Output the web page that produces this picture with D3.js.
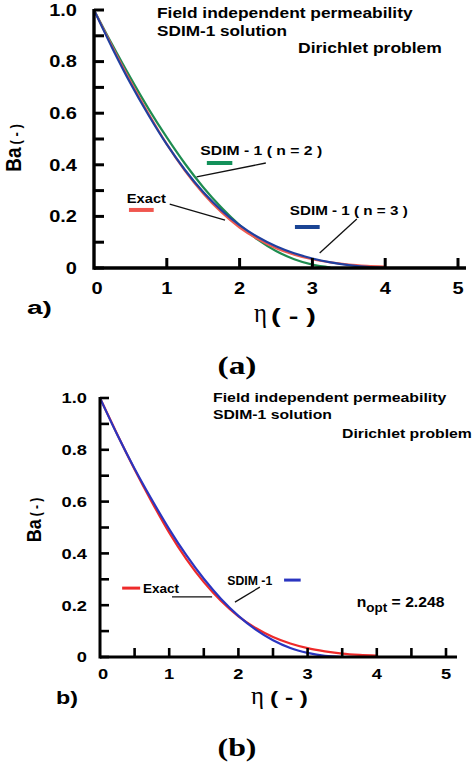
<!DOCTYPE html>
<html>
<head>
<meta charset="utf-8">
<style>
  body { margin: 0; background: #fff; }
  .sans { font-family: "Liberation Sans", Arial, sans-serif; font-weight: bold; }
  .serif { font-family: "Liberation Serif", "Times New Roman", serif; }
  .cap { font-family: "Liberation Serif", "Times New Roman", serif; font-weight: bold; }
</style>
</head>
<body>
<script src="https://cdn.jsdelivr.net/npm/d3@7"></script>
<script>
// values
var eta = [0, 0.25, 0.5, 0.75, 1, 1.25, 1.5, 1.75, 2, 2.25, 2.5, 2.75, 3, 3.25, 3.5, 3.75, 4];
var exact = [1.0, 0.859, 0.724, 0.598, 0.480, 0.377, 0.289, 0.216, 0.157, 0.112, 0.077, 0.052, 0.034, 0.022, 0.013, 0.008, 0.005];
var sdimN2 = [1.0, 0.866, 0.738, 0.617, 0.506, 0.404, 0.313, 0.234, 0.166, 0.110, 0.066, 0.034, 0.013, 0.002];
var sdimN3 = [1.0, 0.853, 0.716, 0.592, 0.479, 0.380, 0.295, 0.224, 0.166, 0.120, 0.084, 0.057, 0.037, 0.022, 0.011, 0.004, 0.0];
var sdimOpt = [1.0, 0.858, 0.727, 0.607, 0.494, 0.392, 0.302, 0.224, 0.159, 0.106, 0.065, 0.035, 0.016, 0.004, 0.0];

var yMajor = [0, 0.2, 0.4, 0.6, 0.8, 1.0];
var yLabels = ["0", "0.2", "0.4", "0.6", "0.8", "1.0"];
var yMinor = [0.1, 0.3, 0.5, 0.7, 0.9];
var xMajor = [0, 1, 2, 3, 4, 5];
var xMinorB = [0.5, 1.5, 2.5, 3.5, 4.5];

var width = 473, height = 769;
var svg = d3.select("body").append("svg")
    .attr("width", width)
    .attr("height", height);

// text with a horizontal stretch so it fills the measured width
function label(g, str, x, y, size, w, cls, anchor) {
  var t = g.append("text")
      .attr("class", cls || "sans")
      .attr("font-size", size)
      .attr("text-anchor", anchor || "start")
      .text(str);
  var sx = w ? w / t.node().getBBox().width : 1;
  t.attr("transform", "translate(" + x + "," + y + ") scale(" + sx + ",1)");
  return t;
}
function stretched(g, str, x, y, size, sx, anchor) {
  return g.append("text")
      .attr("class", "sans")
      .attr("font-size", size)
      .attr("text-anchor", anchor)
      .attr("transform", "translate(" + x + "," + y + ") scale(" + sx + ",1)")
      .text(str);
}

function series(xs, ys) {
  return ys.map(function(v, i) { return [xs[i], v]; });
}

function drawLabels(g, sx, sy, o) {
  yMajor.forEach(function(v, i) {
    stretched(g, yLabels[i], o.yLabRight, sy(v) + o.labSize * 0.36, o.labSize, o.labSx, "end");
  });
  xMajor.forEach(function(v) {
    stretched(g, String(v), sx(v) + (v === 0 ? 3 : 0), o.xLabY, o.labSize, o.labSx, "middle");
  });
}

// axis lines and tick marks
function drawFrame(g, sx, sy, o) {
  var x0 = sx(0), y0 = sy(0);
  g.append("line").attr("x1", x0).attr("x2", x0).attr("y1", sy(1) - 1).attr("y2", y0 + o.axisW / 2)
    .style("stroke", "black").style("stroke-width", o.axisW + "px");
  g.append("line").attr("x1", x0).attr("x2", sx(5) + o.xExt).attr("y1", y0).attr("y2", y0)
    .style("stroke", "black").style("stroke-width", o.axisW + "px");
  var yt = yMajor.concat(yMinor);
  for (var i = 0; i < yt.length; i++) {
    g.append("line")
      .attr("x1", x0).attr("x2", x0 + o.tick)
      .attr("y1", sy(yt[i])).attr("y2", sy(yt[i]))
      .style("stroke", "black").style("stroke-width", o.tickW + "px");
  }
  for (var j = 0; j < o.xTicks.length; j++) {
    var v = o.xTicks[j];
    if (v <= 0) continue;
    g.append("line")
      .attr("x1", sx(v)).attr("x2", sx(v))
      .attr("y1", y0).attr("y2", y0 - o.tick)
      .style("stroke", "black").style("stroke-width", o.tickW + "px");
  }
}

function yTitle(g, cx, cy, big, small) {
  var t = g.append("text")
      .attr("class", "sans")
      .attr("text-anchor", "middle")
      .attr("transform", "translate(" + cx + "," + cy + ") rotate(-90) scale(1,1.15)");
  t.append("tspan").attr("font-size", big).text("Ba");
  t.append("tspan").attr("font-size", small).attr("dx", 3).text("( - )");
}

function leader(g, x, y, p, q) {
  g.append("line").attr("x1", x(p[0])).attr("y1", y(p[1])).attr("x2", x(q[0])).attr("y2", y(q[1]))
    .attr("stroke", "#111").attr("stroke-width", 1.3);
}
function dash(g, x, y, x0, x1, yv, color, w) {
  g.append("line").attr("x1", x(x0)).attr("x2", x(x1)).attr("y1", y(yv)).attr("y2", y(yv))
    .attr("stroke", color).attr("stroke-width", w);
}

// ---------- panel a ----------
var ga = svg.append("g");
var xA = d3.scaleLinear().domain([0, 5]).range([94, 458]);
var yA = d3.scaleLinear().domain([0, 1]).range([268, 10]);
var lineA = d3.line().x(function(d) { return xA(d[0]); }).y(function(d) { return yA(d[1]); }).curve(d3.curveMonotoneX);
var optA = { tick: 10, tickW: 3, axisW: 3.4, xExt: 8, xTicks: xMajor,
  yLabRight: 77, labSize: 16, labSx: 1.25, xLabY: 294 };

drawLabels(ga, xA, yA, optA);

ga.append("path").datum(series(eta, sdimN2)).attr("d", lineA)
  .attr("fill", "none").attr("stroke", "#1e8c50").attr("stroke-width", 2.2);
ga.append("path").datum(series(eta, exact)).attr("d", lineA)
  .attr("fill", "none").attr("stroke", "#ef5a50").attr("stroke-width", 2.2);
ga.append("path").datum(series(eta, sdimN3)).attr("d", lineA)
  .attr("fill", "none").attr("stroke", "#2040a0").attr("stroke-width", 2.2);

label(ga, "Field independent permeability", 157, 18, 14, 256);
label(ga, "SDIM-1 solution", 157, 36, 14, 130);
label(ga, "Dirichlet problem", 298, 53, 14, 144);

label(ga, "SDIM - 1 ( n = 2 )", xA(1.46), yA(0.438), 13, 122);
dash(ga, xA, yA, 1.55, 1.90, 0.407, "#13915a", 4);
leader(ga, xA, yA, [1.41, 0.353], [2.36, 0.407]);

label(ga, "Exact", xA(0.45), yA(0.252), 13, 40);
dash(ga, xA, yA, 0.48, 0.82, 0.225, "#f0564e", 4);
leader(ga, xA, yA, [1.04, 0.248], [1.80, 0.186]);

label(ga, "SDIM - 1 ( n = 3 )", xA(2.69), yA(0.205), 13, 118);
dash(ga, xA, yA, 2.76, 3.10, 0.159, "#1a4494", 4);
leader(ga, xA, yA, [3.61, 0.19], [3.10, 0.058]);

yTitle(ga, 21, 148, 19, 13);
label(ga, "a)", 27, 314, 19, 25);
label(ga, "η", 254, 322, 27, 13, "serif");
label(ga, "( - )", 271, 323, 20, 45);
label(ga, "(a)", 237, 374, 25, 39, "cap", "middle");

// ---------- panel b ----------
var gb = svg.append("g");
var xB = d3.scaleLinear().domain([0, 5]).range([100, 446]);
var yB = d3.scaleLinear().domain([0, 1]).range([657, 398]);
var lineB = d3.line().x(function(d) { return xB(d[0]); }).y(function(d) { return yB(d[1]); }).curve(d3.curveMonotoneX);
var optB = { tick: 9, tickW: 2.6, axisW: 3, xExt: 11, xTicks: xMajor.concat(xMinorB),
  yLabRight: 87, labSize: 15, labSx: 1.22, xLabY: 679 };

drawLabels(gb, xB, yB, optB);

gb.append("path").datum(series(eta, exact)).attr("d", lineB)
  .attr("fill", "none").attr("stroke", "#ee2a2a").attr("stroke-width", 2.2);
gb.append("path").datum(series(eta, sdimOpt)).attr("d", lineB)
  .attr("fill", "none").attr("stroke", "#2a35c0").attr("stroke-width", 2.2);

label(gb, "Field independent permeability", 213, 402, 13.5, 234);
label(gb, "SDIM-1 solution", 213, 419, 13.5, 119);
label(gb, "Dirichlet problem", 342, 438, 13.5, 130);

label(gb, "SDIM -1", xB(1.84), yB(0.278), 12.5, 45);
dash(gb, xB, yB, 2.66, 2.90, 0.297, "#2a35c0", 3);
leader(gb, xB, yB, [2.31, 0.27], [1.95, 0.212]);

label(gb, "Exact", xB(0.62), yB(0.247), 12.5, 37);
dash(gb, xB, yB, 0.32, 0.58, 0.266, "#ee2a2a", 3);
leader(gb, xB, yB, [1.04, 0.232], [1.62, 0.232]);

var nopt = gb.append("text").attr("class", "sans").attr("font-size", 14);
nopt.append("tspan").text("n");
nopt.append("tspan").attr("font-size", 12).attr("dy", 5).text("opt");
nopt.append("tspan").attr("dy", -5).text(" = 2.248");
var nw = nopt.node().getBBox().width;
nopt.attr("transform", "translate(" + xB(3.71) + "," + yB(0.193) + ") scale(" + (88 / nw) + ",1)");

yTitle(gb, 41, 520, 18, 12);
label(gb, "b)", 56, 704, 18, 22);
label(gb, "η", 251, 704, 26, 13, "serif");
label(gb, "( - )", 270, 704, 19, 38);
label(gb, "(b)", 237, 756, 25, 39, "cap", "middle");

// frames on top
drawFrame(svg.append("g"), xA, yA, optA);
drawFrame(svg.append("g"), xB, yB, optB);
</script>
</body>
</html>
